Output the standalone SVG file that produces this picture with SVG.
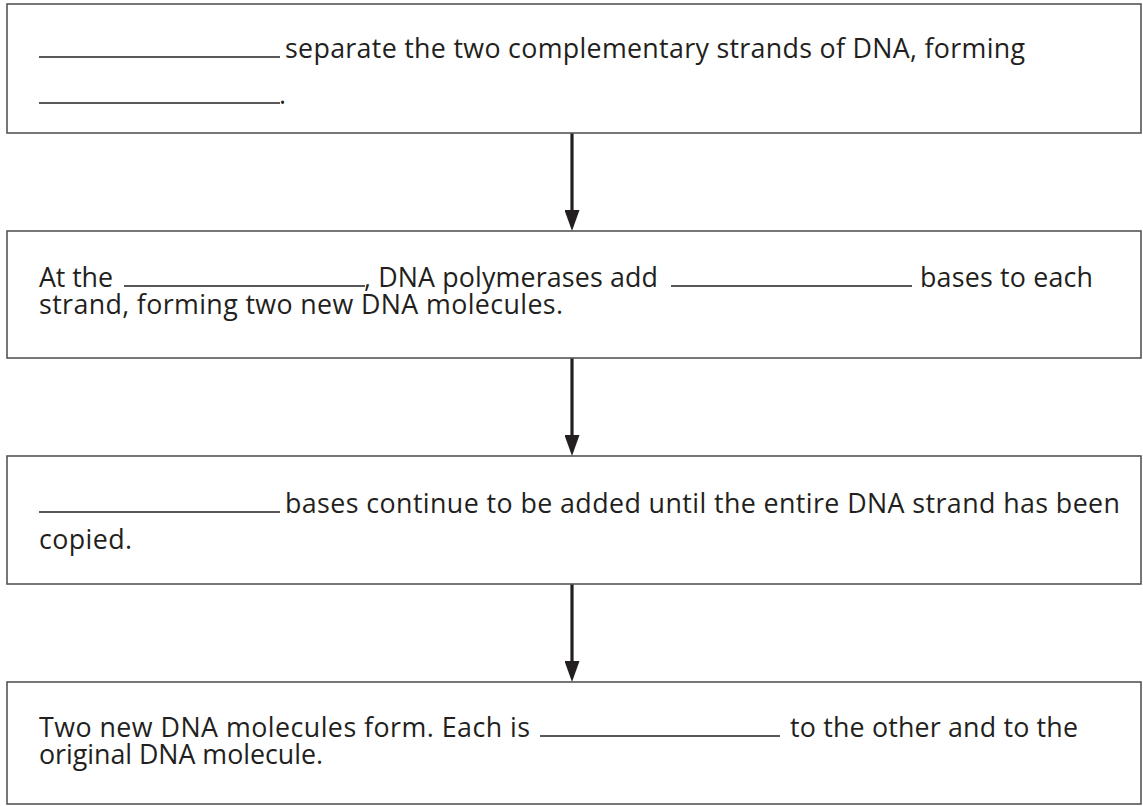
<svg xmlns="http://www.w3.org/2000/svg" width="1143" height="806" viewBox="0 0 1143 806">
<defs>
<style>
.box{fill:#fff;stroke:#555;stroke-width:1.6}
.t{font-family:"Open Sans","Noto Sans",sans-serif;font-size:26.8px;fill:#231f20}
.u{stroke:#231f20;stroke-width:1.5}
.c{stroke:#231f20;stroke-width:3.2;fill:none}
</style>
<marker id="ah" markerWidth="21" markerHeight="15" refX="0" refY="7.5" orient="auto" markerUnits="userSpaceOnUse"><path d="M0,0 L21,7.5 L0,15 Z" fill="#231f20"/></marker>
</defs>
<rect width="1143" height="806" fill="#fff"/>
<g id="connectors">
<line class="c" x1="572" y1="133" x2="572" y2="210" marker-end="url(#ah)"/>
<line class="c" x1="572" y1="358" x2="572" y2="435" marker-end="url(#ah)"/>
<line class="c" x1="572" y1="584" x2="572" y2="661" marker-end="url(#ah)"/>
</g>
<g id="node1">
<rect class="box" x="7" y="4" width="1134" height="129"/>
<line class="u" x1="39" y1="57" x2="280" y2="57"/>
<text class="t" x="285" y="58" textLength="740" lengthAdjust="spacing">separate the two complementary strands of DNA, forming</text>
<line class="u" x1="39" y1="103" x2="280" y2="103"/>
<text class="t" x="279" y="104">.</text>
</g>
<g id="node2">
<rect class="box" x="7" y="231" width="1134" height="127"/>
<text class="t" x="39" y="287" textLength="74" lengthAdjust="spacing">At the</text>
<line class="u" x1="124" y1="286" x2="365" y2="286"/>
<text class="t" x="364" y="287" textLength="294" lengthAdjust="spacing">, DNA polymerases add</text>
<line class="u" x1="671" y1="286" x2="912" y2="286"/>
<text class="t" x="920" y="287" textLength="173" lengthAdjust="spacing">bases to each</text>
<text class="t" x="39" y="314" textLength="524" lengthAdjust="spacing">strand, forming two new DNA molecules.</text>
</g>
<g id="node3">
<rect class="box" x="7" y="456" width="1134" height="128"/>
<line class="u" x1="39" y1="512" x2="280" y2="512"/>
<text class="t" x="285" y="513" textLength="835" lengthAdjust="spacing">bases continue to be added until the entire DNA strand has been</text>
<text class="t" x="39" y="549" textLength="93" lengthAdjust="spacing">copied.</text>
</g>
<g id="node4">
<rect class="box" x="7" y="682" width="1134" height="122"/>
<text class="t" x="39" y="737" textLength="491" lengthAdjust="spacing">Two new DNA molecules form. Each is</text>
<line class="u" x1="540" y1="736" x2="780" y2="736"/>
<text class="t" x="790" y="737" textLength="288" lengthAdjust="spacing">to the other and to the</text>
<text class="t" x="39" y="764" textLength="284" lengthAdjust="spacing">original DNA molecule.</text>
</g>
</svg>
